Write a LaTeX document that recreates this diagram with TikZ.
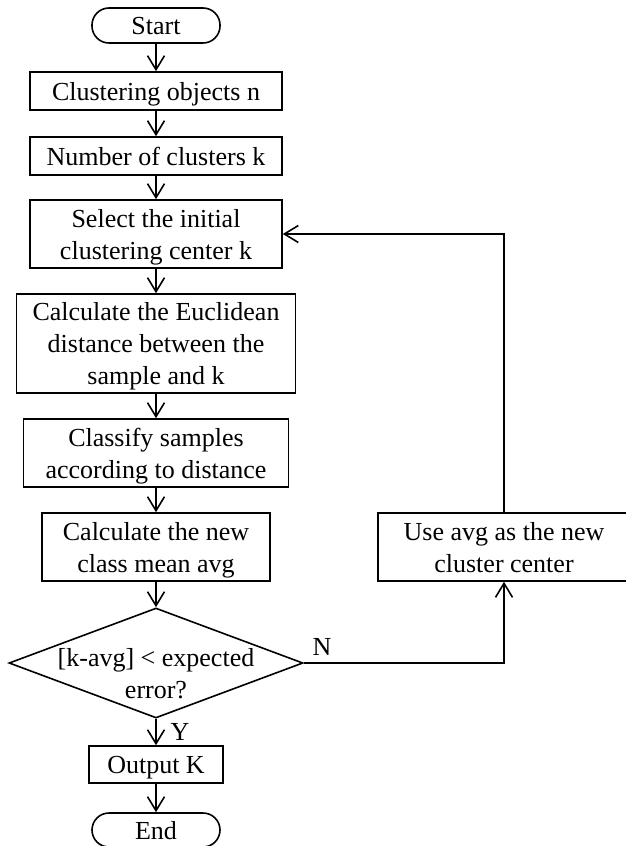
\documentclass[tikz,border=0pt]{standalone}
\usepackage{fontspec}
\setmainfont{Liberation Serif}
\usetikzlibrary{arrows.meta,shapes.geometric}
\newcommand\mytop{\rule{0pt}{24pt}}
\newcommand\mybot{\rule[-6pt]{0pt}{6pt}}
\begin{document}
\begin{tikzpicture}[x=1pt,y=-1pt,
  font=\fontsize{26}{32}\selectfont,
  box/.style={draw, line width=1.6pt, align=center, inner sep=0pt},
  term/.style={box, rounded corners=17pt},
  arr/.style={line width=1.6pt, -{Straight Barb[length=14pt,width=17pt,line width=1.6pt]}},
  lbl/.style={inner sep=0pt},
]
\useasboundingbox (0,0) rectangle (626,846);
\node[term, minimum width=128pt, minimum height=35pt] (start) at (156,25.5) {\mytop Start\mybot};
\node[box, minimum width=252pt, minimum height=38pt] (b1) at (156,91) {\mytop Clustering objects n\mybot};
\node[box, minimum width=252pt, minimum height=38pt] (b2) at (156,156) {\mytop Number of clusters k\mybot};
\node[box, minimum width=252pt, minimum height=68pt] (b3) at (156,234) {\mytop Select the initial\\clustering center k\mybot};
\node[box, minimum width=279pt, minimum height=99pt] (b4) at (156,343.5) {\mytop Calculate the Euclidean\\distance between the\\sample and k\mybot};
\node[box, minimum width=265pt, minimum height=68pt] (b5) at (156,453) {\mytop Classify samples\\according to distance\mybot};
\node[box, minimum width=228pt, minimum height=68pt] (b6) at (156,547) {\mytop Calculate the new\\class mean avg\mybot};
\node[draw, diamond, line width=1.6pt, minimum width=294pt, minimum height=110pt, inner sep=0pt] (dia) at (156,663) {};
\node[lbl, align=center] (diatext) at (156,673) {\mytop [k-avg] < expected\\error?\mybot};
\node[box, minimum width=134pt, minimum height=37pt] (out) at (156,764.5) {\mytop Output K\mybot};
\node[term, minimum width=128pt, minimum height=34pt] (end) at (156,830) {\mytop End\mybot};
\node[box, minimum width=252pt, minimum height=68pt] (use) at (504,547) {\mytop Use avg as the new\\cluster center\mybot};
\node[lbl] (nlab) at (322,647) {N};
\node[lbl] (ylab) at (180,732) {Y};
\draw[arr] (start) -- (b1);
\draw[arr] (b1) -- (b2);
\draw[arr] (b2) -- (b3);
\draw[arr] (b3) -- (b4);
\draw[arr] (b4) -- (b5);
\draw[arr] (b5) -- (b6);
\draw[arr] (b6) -- (dia);
\draw[arr] (dia) -- (out);
\draw[arr] (out) -- (end);
\draw[arr] (dia.east) -| (use.south);
\draw[arr] (use.north) |- (b3.east);
\end{tikzpicture}
\end{document}
